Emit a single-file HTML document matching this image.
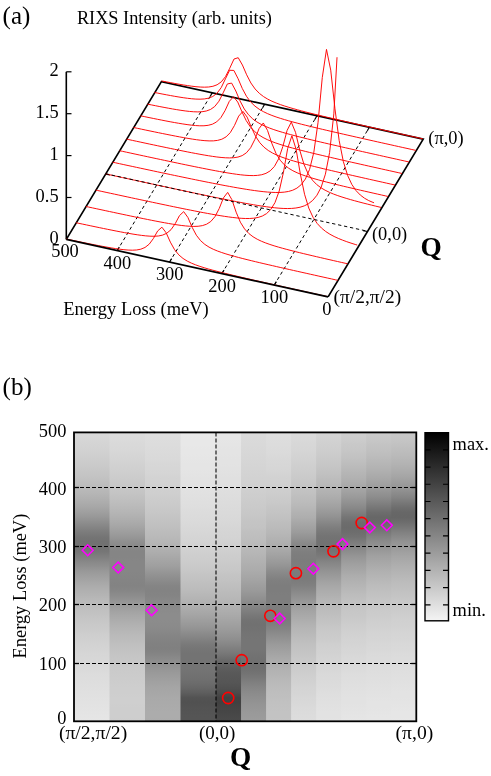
<!DOCTYPE html>
<html><head><meta charset="utf-8"><title>RIXS</title>
<style>html,body{margin:0;padding:0;background:#fff}body{width:491px;height:776px;position:relative;overflow:hidden;font-family:"Liberation Serif",serif}</style></head>
<body>
<svg width="491" height="776" viewBox="0 0 491 776" style="position:absolute;left:0;top:0;will-change:transform">
<rect width="100%" height="100%" fill="#fff"/>
<g fill="none" stroke-linecap="butt">
<path d="M117.19,250.57 L212.29,92.82" stroke="#000" stroke-width="1.0" stroke-dasharray="3.3,2.8"/>
<path d="M169.55,262.06 L264.65,104.31" stroke="#000" stroke-width="1.0" stroke-dasharray="3.3,2.8"/>
<path d="M221.91,273.55 L317.01,115.80" stroke="#000" stroke-width="1.0" stroke-dasharray="3.3,2.8"/>
<path d="M274.27,285.04 L369.37,127.29" stroke="#000" stroke-width="1.0" stroke-dasharray="3.3,2.8"/>
<path d="M66.30,239.40 L161.40,81.65 L423.20,139.10 L328.10,296.85" stroke="#000" stroke-width="1.7" stroke-linejoin="miter"/>
<path d="M66.30,239.40 L66.30,71.80" stroke="#000" stroke-width="1.6"/>
<path d="M66.30,197.50 h5.2" stroke="#000" stroke-width="1.2"/>
<path d="M66.30,155.60 h5.2" stroke="#000" stroke-width="1.2"/>
<path d="M66.30,113.70 h5.2" stroke="#000" stroke-width="1.2"/>
<path d="M66.30,71.80 h5.2" stroke="#000" stroke-width="1.2"/>
<path d="M117.19,250.57 l2.07,-3.43" stroke="#000" stroke-width="1.2"/>
<path d="M212.29,92.82 l-2.07,3.43" stroke="#000" stroke-width="1.2"/>
<path d="M169.55,262.06 l2.07,-3.43" stroke="#000" stroke-width="1.2"/>
<path d="M264.65,104.31 l-2.07,3.43" stroke="#000" stroke-width="1.2"/>
<path d="M221.91,273.55 l2.07,-3.43" stroke="#000" stroke-width="1.2"/>
<path d="M317.01,115.80 l-2.07,3.43" stroke="#000" stroke-width="1.2"/>
<path d="M274.27,285.04 l2.07,-3.43" stroke="#000" stroke-width="1.2"/>
<path d="M369.37,127.29 l-2.07,3.43" stroke="#000" stroke-width="1.2"/>
<path d="M105.69,174.06 l4.40,0.96" stroke="#000" stroke-width="1.2"/>
<path d="M367.49,231.51 l-4.40,-0.96" stroke="#000" stroke-width="1.2"/>
<path d="M161.40,80.87 L162.20,81.03 L166.42,81.86 L170.65,82.67 L174.87,83.46 L179.09,84.22 L183.32,84.93 L187.54,85.60 L191.76,86.19 L195.98,86.69 L200.21,87.04 L204.43,87.18 L208.65,87.00 L212.88,86.30 L217.10,84.77 L221.32,81.83 L225.54,76.56 L229.77,68.18 L233.99,59.04 L238.21,57.71 L242.43,65.04 L246.66,74.79 L250.88,82.97 L255.10,88.98 L259.33,93.33 L263.55,96.60 L267.77,99.15 L271.99,101.25 L276.22,103.03 L280.44,104.61 L284.66,106.04 L288.89,107.35 L293.11,108.59 L297.33,109.77 L301.55,110.91 L305.78,112.01 L310.00,113.08 L314.22,114.13 L318.45,115.16 L322.67,116.17 L326.89,117.18 L331.11,118.17 L335.34,119.16 L339.56,120.14 L343.78,121.11 L348.01,122.08 L352.23,123.04 L356.45,124.00 L360.67,124.96 L364.90,125.91 L369.12,126.86 L373.34,127.81 L377.57,128.76 L381.79,129.70 L386.01,130.65 L390.23,131.59 L394.46,132.53 L398.68,133.47 L402.90,134.41 L407.13,135.35 L411.35,136.29 L415.57,137.22 L419.79,138.16 L422.78,138.82 " stroke="#ff0000" stroke-width="0.95" stroke-linejoin="round"/>
<path d="M154.44,92.46 L157.86,93.14 L162.08,93.97 L166.30,94.78 L170.52,95.56 L174.75,96.32 L178.97,97.03 L183.19,97.69 L187.42,98.27 L191.64,98.75 L195.86,99.08 L200.08,99.18 L204.31,98.95 L208.53,98.17 L212.75,96.49 L216.98,93.29 L221.20,87.64 L225.42,78.90 L229.64,70.27 L233.87,70.45 L238.09,78.70 L242.31,88.50 L246.53,96.37 L250.76,102.05 L254.98,106.15 L259.20,109.24 L263.43,111.67 L267.65,113.68 L271.87,115.41 L276.09,116.94 L280.32,118.33 L284.54,119.62 L288.76,120.84 L292.99,122.00 L297.21,123.12 L301.43,124.21 L305.65,125.27 L309.88,126.31 L314.10,127.34 L318.32,128.35 L322.55,129.35 L326.77,130.34 L330.99,131.32 L335.21,132.30 L339.44,133.27 L343.66,134.23 L347.88,135.19 L352.11,136.15 L356.33,137.11 L360.55,138.06 L364.77,139.01 L369.00,139.96 L373.22,140.90 L377.44,141.85 L381.67,142.79 L385.89,143.73 L390.11,144.67 L394.33,145.61 L398.56,146.55 L402.78,147.49 L407.00,148.42 L411.23,149.36 L415.45,150.29 L415.82,150.38 " stroke="#ff0000" stroke-width="0.95" stroke-linejoin="round"/>
<path d="M147.47,104.11 L151.38,104.90 L155.60,105.74 L159.83,106.58 L164.05,107.39 L168.27,108.18 L172.50,108.94 L176.72,109.65 L180.94,110.32 L185.16,110.92 L189.39,111.41 L193.61,111.76 L197.83,111.90 L202.06,111.72 L206.28,111.02 L210.50,109.48 L214.72,106.51 L218.95,101.21 L223.17,92.84 L227.39,83.94 L231.62,83.09 L235.84,91.00 L240.06,100.95 L244.28,108.98 L248.51,114.74 L252.73,118.88 L256.95,121.97 L261.17,124.39 L265.40,126.39 L269.62,128.10 L273.84,129.62 L278.07,131.00 L282.29,132.28 L286.51,133.49 L290.73,134.64 L294.96,135.76 L299.18,136.84 L303.40,137.90 L307.63,138.94 L311.85,139.96 L316.07,140.97 L320.29,141.96 L324.52,142.95 L328.74,143.93 L332.96,144.91 L337.19,145.87 L341.41,146.84 L345.63,147.80 L349.85,148.76 L354.08,149.71 L358.30,150.66 L362.52,151.61 L366.75,152.56 L370.97,153.50 L375.19,154.44 L379.41,155.39 L383.64,156.33 L387.86,157.27 L392.08,158.21 L396.31,159.14 L400.53,160.08 L404.75,161.02 L408.85,161.93 " stroke="#ff0000" stroke-width="0.95" stroke-linejoin="round"/>
<path d="M140.51,115.80 L144.82,116.70 L149.04,117.57 L153.27,118.43 L157.49,119.29 L161.71,120.12 L165.93,120.95 L170.16,121.75 L174.38,122.52 L178.60,123.26 L182.83,123.95 L187.05,124.58 L191.27,125.13 L195.49,125.55 L199.72,125.79 L203.94,125.77 L208.16,125.32 L212.39,124.19 L216.61,121.91 L220.83,117.70 L225.05,110.64 L229.28,101.40 L233.50,96.74 L237.72,102.04 L241.95,111.77 L246.17,120.52 L250.39,126.95 L254.61,131.53 L258.84,134.90 L263.06,137.51 L267.28,139.62 L271.51,141.40 L275.73,142.97 L279.95,144.39 L284.17,145.69 L288.40,146.92 L292.62,148.09 L296.84,149.22 L301.07,150.31 L305.29,151.37 L309.51,152.41 L313.73,153.44 L317.96,154.45 L322.18,155.45 L326.40,156.44 L330.63,157.42 L334.85,158.39 L339.07,159.36 L343.29,160.33 L347.52,161.29 L351.74,162.25 L355.96,163.20 L360.19,164.15 L364.41,165.10 L368.63,166.05 L372.85,166.99 L377.08,167.94 L381.30,168.88 L385.52,169.82 L389.75,170.76 L393.97,171.70 L398.19,172.64 L401.89,173.46 " stroke="#ff0000" stroke-width="0.95" stroke-linejoin="round"/>
<path d="M133.55,127.49 L137.35,128.30 L141.58,129.19 L145.80,130.08 L150.02,130.96 L154.25,131.84 L158.47,132.71 L162.69,133.57 L166.91,134.42 L171.14,135.26 L175.36,136.08 L179.58,136.88 L183.81,137.65 L188.03,138.39 L192.25,139.08 L196.47,139.71 L200.70,140.25 L204.92,140.66 L209.14,140.90 L213.37,140.86 L217.59,140.39 L221.81,139.23 L226.03,136.91 L230.26,132.65 L234.48,125.48 L238.70,116.12 L242.93,111.38 L247.15,117.10 L251.37,127.39 L255.59,136.32 L259.82,142.72 L264.04,147.21 L268.26,150.48 L272.49,153.01 L276.71,155.06 L280.93,156.79 L285.15,158.32 L289.38,159.71 L293.60,160.99 L297.82,162.20 L302.04,163.35 L306.27,164.46 L310.49,165.54 L314.71,166.59 L318.94,167.63 L323.16,168.65 L327.38,169.65 L331.60,170.65 L335.83,171.63 L340.05,172.61 L344.27,173.58 L348.50,174.55 L352.72,175.51 L356.94,176.47 L361.16,177.42 L365.39,178.38 L369.61,179.33 L373.83,180.27 L378.06,181.22 L382.28,182.16 L386.50,183.11 L390.72,184.05 L394.93,184.98 " stroke="#ff0000" stroke-width="0.95" stroke-linejoin="round"/>
<path d="M126.58,139.14 L128.16,139.48 L132.39,140.38 L136.61,141.29 L140.83,142.20 L145.05,143.10 L149.28,144.00 L153.50,144.89 L157.72,145.79 L161.95,146.68 L166.17,147.56 L170.39,148.44 L174.61,149.31 L178.84,150.17 L183.06,151.02 L187.28,151.86 L191.51,152.69 L195.73,153.49 L199.95,154.27 L204.17,155.02 L208.40,155.73 L212.62,156.39 L216.84,156.97 L221.07,157.45 L225.29,157.79 L229.51,157.92 L233.73,157.74 L237.96,157.07 L242.18,155.61 L246.40,152.81 L250.62,147.78 L254.85,139.42 L259.07,128.55 L263.29,122.98 L267.52,130.40 L271.74,143.13 L275.96,153.34 L280.18,160.22 L284.41,164.87 L288.63,168.19 L292.85,170.72 L297.08,172.75 L301.30,174.47 L305.52,175.98 L309.74,177.35 L313.97,178.63 L318.19,179.82 L322.41,180.97 L326.64,182.07 L330.86,183.14 L335.08,184.19 L339.30,185.22 L343.53,186.24 L347.75,187.24 L351.97,188.23 L356.20,189.21 L360.42,190.19 L364.64,191.16 L368.86,192.12 L373.09,193.08 L377.31,194.04 L381.53,194.99 L385.76,195.94 L387.96,196.44 " stroke="#ff0000" stroke-width="0.95" stroke-linejoin="round"/>
<path d="M119.62,150.71 L122.39,151.31 L126.62,152.23 L130.84,153.14 L135.06,154.05 L139.28,154.96 L143.51,155.87 L147.73,156.77 L151.95,157.68 L156.18,158.58 L160.40,159.48 L164.62,160.38 L168.84,161.28 L173.07,162.17 L177.29,163.06 L181.51,163.94 L185.74,164.82 L189.96,165.69 L194.18,166.56 L198.40,167.41 L202.63,168.26 L206.85,169.09 L211.07,169.91 L215.30,170.71 L219.52,171.49 L223.74,172.25 L227.96,172.96 L232.19,173.64 L236.41,174.25 L240.63,174.79 L244.86,175.22 L249.08,175.51 L253.30,175.60 L257.52,175.39 L261.75,174.73 L265.97,173.37 L270.19,170.86 L274.41,166.45 L278.64,158.84 L282.86,146.47 L287.08,130.48 L291.31,122.10 L295.53,132.33 L299.75,150.17 L303.97,164.40 L308.20,173.87 L312.42,180.13 L316.64,184.49 L320.87,187.70 L325.09,190.21 L329.31,192.28 L333.53,194.05 L337.76,195.61 L341.98,197.03 L346.20,198.34 L350.43,199.58 L354.65,200.76 L358.87,201.90 L363.09,203.00 L367.32,204.07 L371.54,205.13 L375.76,206.16 L379.99,207.18 L381.00,207.42 " stroke="#ff0000" stroke-width="0.95" stroke-linejoin="round"/>
<path d="M112.65,162.20 L115.35,162.78 L119.57,163.70 L123.80,164.61 L128.02,165.52 L132.24,166.42 L136.46,167.33 L140.69,168.24 L144.91,169.14 L149.13,170.04 L153.36,170.94 L157.58,171.84 L161.80,172.74 L166.02,173.63 L170.25,174.52 L174.47,175.41 L178.69,176.29 L182.92,177.17 L187.14,178.04 L191.36,178.91 L195.58,179.78 L199.81,180.64 L204.03,181.49 L208.25,182.33 L212.48,183.17 L216.70,183.99 L220.92,184.81 L225.14,185.61 L229.37,186.39 L233.59,187.16 L237.81,187.90 L242.04,188.62 L246.26,189.31 L250.48,189.97 L254.70,190.58 L258.93,191.14 L263.15,191.63 L267.37,192.04 L271.60,192.33 L275.82,192.49 L280.04,192.45 L284.26,192.14 L288.49,191.46 L292.71,190.22 L296.93,188.14 L301.16,184.71 L305.38,179.02 L309.60,169.34 L313.82,152.31 L318.05,122.33 L322.27,77.55 L326.49,49.40 L330.72,70.15 L334.94,108.74 L339.16,140.53 L343.38,161.73 L347.61,175.42 L351.83,184.45 L356.05,190.64 L360.28,195.01 L364.50,198.21 L368.72,200.59 L372.94,202.39 L374.04,202.77 " stroke="#ff0000" stroke-width="0.95" stroke-linejoin="round"/>
<path d="M105.69,173.92 L110.03,174.87 L114.26,175.79 L118.48,176.71 L122.70,177.63 L126.93,178.54 L131.15,179.46 L135.37,180.38 L139.59,181.29 L143.82,182.21 L148.04,183.12 L152.26,184.03 L156.48,184.95 L160.71,185.86 L164.93,186.76 L169.15,187.67 L173.38,188.58 L177.60,189.48 L181.82,190.38 L186.04,191.28 L190.27,192.18 L194.49,193.07 L198.71,193.96 L202.94,194.84 L207.16,195.72 L211.38,196.60 L215.60,197.47 L219.83,198.33 L224.05,199.18 L228.27,200.02 L232.50,200.86 L236.72,201.68 L240.94,202.48 L245.16,203.27 L249.39,204.03 L253.61,204.77 L257.83,205.47 L262.06,206.14 L266.28,206.76 L270.50,207.31 L274.72,207.79 L278.95,208.18 L283.17,208.44 L287.39,208.54 L291.62,208.43 L295.84,208.02 L300.06,207.23 L304.28,205.87 L308.51,203.72 L312.73,200.38 L316.95,195.22 L321.18,187.15 L325.40,174.19 L329.62,152.49 L333.84,113.87 L337.03,57.23 " stroke="#ff0000" stroke-width="0.95" stroke-linejoin="round"/>
<path d="M95.84,190.12 L97.63,190.50 L101.85,191.42 L106.07,192.33 L110.30,193.24 L114.52,194.15 L118.74,195.06 L122.97,195.97 L127.19,196.88 L131.41,197.79 L135.63,198.69 L139.86,199.59 L144.08,200.49 L148.30,201.39 L152.53,202.29 L156.75,203.18 L160.97,204.07 L165.19,204.95 L169.42,205.83 L173.64,206.71 L177.86,207.58 L182.08,208.44 L186.31,209.30 L190.53,210.14 L194.75,210.98 L198.98,211.80 L203.20,212.61 L207.42,213.40 L211.64,214.17 L215.87,214.92 L220.09,215.63 L224.31,216.30 L228.54,216.92 L232.76,217.47 L236.98,217.94 L241.20,218.30 L245.43,218.50 L249.65,218.49 L253.87,218.18 L258.10,217.44 L262.32,216.04 L266.54,213.61 L270.76,209.51 L274.99,202.60 L279.21,191.00 L283.43,172.41 L287.66,148.51 L291.88,135.79 L296.10,149.26 L300.32,173.87 L304.55,194.25 L308.77,208.06 L312.99,217.22 L317.22,223.50 L321.44,228.03 L325.66,231.48 L329.88,234.21 L334.11,236.48 L338.33,238.43 L342.55,240.14 L346.78,241.69 L351.00,243.12 L355.22,244.46 L357.22,245.06 " stroke="#ff0000" stroke-width="0.95" stroke-linejoin="round"/>
<path d="M86.00,206.48 L88.33,206.99 L92.55,207.90 L96.77,208.81 L101.00,209.71 L105.22,210.62 L109.44,211.52 L113.66,212.42 L117.89,213.32 L122.11,214.21 L126.33,215.10 L130.56,215.99 L134.78,216.87 L139.00,217.74 L143.22,218.60 L147.45,219.45 L151.67,220.30 L155.89,221.12 L160.12,221.93 L164.34,222.71 L168.56,223.47 L172.78,224.18 L177.01,224.84 L181.23,225.43 L185.45,225.92 L189.68,226.28 L193.90,226.43 L198.12,226.27 L202.34,225.64 L206.57,224.22 L210.79,221.50 L215.01,216.60 L219.24,208.45 L223.46,197.83 L227.68,192.40 L231.90,199.68 L236.13,212.16 L240.35,222.16 L244.57,228.92 L248.80,233.49 L253.02,236.76 L257.24,239.24 L261.46,241.25 L265.69,242.96 L269.91,244.46 L274.13,245.82 L278.36,247.08 L282.58,248.27 L286.80,249.41 L291.02,250.51 L295.25,251.58 L299.47,252.63 L303.69,253.66 L307.92,254.67 L312.14,255.67 L316.36,256.66 L320.58,257.64 L324.81,258.61 L329.03,259.58 L333.25,260.55 L337.48,261.51 L341.70,262.46 L345.92,263.42 L347.38,263.74 " stroke="#ff0000" stroke-width="0.95" stroke-linejoin="round"/>
<path d="M76.15,222.74 L78.12,223.16 L82.35,224.06 L86.57,224.95 L90.79,225.84 L95.02,226.72 L99.24,227.60 L103.46,228.47 L107.68,229.33 L111.91,230.18 L116.13,231.02 L120.35,231.83 L124.58,232.63 L128.80,233.39 L133.02,234.11 L137.24,234.78 L141.47,235.37 L145.69,235.85 L149.91,236.18 L154.14,236.27 L158.36,235.99 L162.58,235.12 L166.80,233.23 L171.03,229.67 L175.25,223.59 L179.47,215.61 L183.70,211.64 L187.92,217.46 L192.14,227.30 L196.36,235.23 L200.59,240.65 L204.81,244.38 L209.03,247.11 L213.25,249.25 L217.48,251.01 L221.70,252.53 L225.92,253.90 L230.15,255.16 L234.37,256.35 L238.59,257.48 L242.81,258.57 L247.04,259.63 L251.26,260.67 L255.48,261.69 L259.71,262.69 L263.93,263.69 L268.15,264.67 L272.37,265.64 L276.60,266.61 L280.82,267.58 L285.04,268.54 L289.27,269.49 L293.49,270.44 L297.71,271.39 L301.93,272.34 L306.16,273.28 L310.38,274.23 L314.60,275.17 L318.83,276.11 L323.05,277.05 L327.27,277.99 L331.49,278.92 L335.72,279.86 L337.53,280.26 " stroke="#ff0000" stroke-width="0.95" stroke-linejoin="round"/>
<path d="M66.30,239.01 L69.01,239.58 L73.23,240.46 L77.45,241.34 L81.68,242.22 L85.90,243.08 L90.12,243.94 L94.34,244.78 L98.57,245.60 L102.79,246.40 L107.01,247.17 L111.24,247.90 L115.46,248.58 L119.68,249.19 L123.90,249.70 L128.13,250.06 L132.35,250.19 L136.57,249.98 L140.80,249.20 L145.02,247.46 L149.24,244.13 L153.46,238.42 L157.69,230.91 L161.91,227.20 L166.13,232.76 L170.36,242.13 L174.58,249.69 L178.80,254.87 L183.02,258.46 L187.25,261.10 L191.47,263.17 L195.69,264.88 L199.91,266.38 L204.14,267.72 L208.36,268.97 L212.58,270.14 L216.81,271.26 L221.03,272.34 L225.25,273.40 L229.47,274.43 L233.70,275.44 L237.92,276.44 L242.14,277.43 L246.37,278.41 L250.59,279.38 L254.81,280.35 L259.03,281.31 L263.26,282.27 L267.48,283.22 L271.70,284.17 L275.93,285.12 L280.15,286.07 L284.37,287.01 L288.59,287.96 L292.82,288.90 L297.04,289.84 L301.26,290.77 L305.49,291.71 L309.71,292.65 L313.93,293.58 L318.15,294.52 L322.38,295.45 L326.60,296.39 L327.68,296.63 " stroke="#ff0000" stroke-width="0.95" stroke-linejoin="round"/>
<path d="M105.69,173.76 L367.49,231.21" stroke="#000" stroke-width="1.0" stroke-dasharray="3.3,2.8"/>
<path d="M66.30,239.40 L328.10,296.85" stroke="#000" stroke-width="1.7"/>
</g>
<g font-family="Liberation Serif, serif" fill="#000">
<text x="2.6" y="24.1" font-size="25">(a)</text>
<text x="76.9" y="24.4" font-size="18.3">RIXS Intensity (arb. units)</text>
<text x="58.6" y="244.0" font-size="18.4" text-anchor="end">0</text>
<text x="58.6" y="201.9" font-size="18.4" text-anchor="end">0.5</text>
<text x="58.6" y="160.0" font-size="18.4" text-anchor="end">1</text>
<text x="58.6" y="118.1" font-size="18.4" text-anchor="end">1.5</text>
<text x="58.6" y="76.2" font-size="18.4" text-anchor="end">2</text>
<text x="65.0" y="257.0" font-size="18.4" text-anchor="middle">500</text>
<text x="117.4" y="268.5" font-size="18.4" text-anchor="middle">400</text>
<text x="169.7" y="280.0" font-size="18.4" text-anchor="middle">300</text>
<text x="222.1" y="291.5" font-size="18.4" text-anchor="middle">200</text>
<text x="274.4" y="303.0" font-size="18.4" text-anchor="middle">100</text>
<text x="326.8" y="314.5" font-size="18.4" text-anchor="middle">0</text>
<text x="63.2" y="314.7" font-size="18.5">Energy Loss (meV)</text>
<text x="428.3" y="143.7" font-size="18.4">(π,0)</text>
<text x="372" y="240.2" font-size="18.4">(0,0)</text>
<text x="333.6" y="303" font-size="18.4" textLength="67.6" lengthAdjust="spacingAndGlyphs">(π/2,π/2)</text>
<text x="420.6" y="255.6" font-size="27.3" font-weight="bold">Q</text>
</g>
<defs>
<linearGradient id="g0" x1="0" y1="0" x2="0" y2="1"><stop offset="0.0000" stop-color="rgb(217,217,217)"/><stop offset="0.0072" stop-color="rgb(216,216,216)"/><stop offset="0.0240" stop-color="rgb(214,214,214)"/><stop offset="0.0409" stop-color="rgb(212,212,212)"/><stop offset="0.0578" stop-color="rgb(210,210,210)"/><stop offset="0.0747" stop-color="rgb(208,208,208)"/><stop offset="0.0915" stop-color="rgb(205,205,205)"/><stop offset="0.1084" stop-color="rgb(203,203,203)"/><stop offset="0.1253" stop-color="rgb(200,200,200)"/><stop offset="0.1421" stop-color="rgb(197,197,197)"/><stop offset="0.1590" stop-color="rgb(194,194,194)"/><stop offset="0.1759" stop-color="rgb(190,190,190)"/><stop offset="0.1927" stop-color="rgb(186,186,186)"/><stop offset="0.2096" stop-color="rgb(182,182,182)"/><stop offset="0.2265" stop-color="rgb(177,177,177)"/><stop offset="0.2433" stop-color="rgb(172,172,172)"/><stop offset="0.2602" stop-color="rgb(166,166,166)"/><stop offset="0.2771" stop-color="rgb(159,159,159)"/><stop offset="0.2939" stop-color="rgb(151,151,151)"/><stop offset="0.3108" stop-color="rgb(142,142,142)"/><stop offset="0.3277" stop-color="rgb(133,133,133)"/><stop offset="0.3445" stop-color="rgb(124,124,124)"/><stop offset="0.3614" stop-color="rgb(117,117,117)"/><stop offset="0.3783" stop-color="rgb(113,113,113)"/><stop offset="0.3952" stop-color="rgb(114,114,114)"/><stop offset="0.4120" stop-color="rgb(118,118,118)"/><stop offset="0.4289" stop-color="rgb(126,126,126)"/><stop offset="0.4458" stop-color="rgb(135,135,135)"/><stop offset="0.4626" stop-color="rgb(143,143,143)"/><stop offset="0.4795" stop-color="rgb(152,152,152)"/><stop offset="0.4964" stop-color="rgb(159,159,159)"/><stop offset="0.5132" stop-color="rgb(165,165,165)"/><stop offset="0.5301" stop-color="rgb(171,171,171)"/><stop offset="0.5470" stop-color="rgb(176,176,176)"/><stop offset="0.5638" stop-color="rgb(180,180,180)"/><stop offset="0.5807" stop-color="rgb(185,185,185)"/><stop offset="0.5976" stop-color="rgb(188,188,188)"/><stop offset="0.6144" stop-color="rgb(192,192,192)"/><stop offset="0.6313" stop-color="rgb(195,195,195)"/><stop offset="0.6482" stop-color="rgb(198,198,198)"/><stop offset="0.6651" stop-color="rgb(201,201,201)"/><stop offset="0.6819" stop-color="rgb(203,203,203)"/><stop offset="0.6988" stop-color="rgb(206,206,206)"/><stop offset="0.7157" stop-color="rgb(208,208,208)"/><stop offset="0.7325" stop-color="rgb(210,210,210)"/><stop offset="0.7494" stop-color="rgb(212,212,212)"/><stop offset="0.7663" stop-color="rgb(214,214,214)"/><stop offset="0.7831" stop-color="rgb(215,215,215)"/><stop offset="0.8000" stop-color="rgb(217,217,217)"/><stop offset="0.8169" stop-color="rgb(218,218,218)"/><stop offset="0.8337" stop-color="rgb(220,220,220)"/><stop offset="0.8506" stop-color="rgb(221,221,221)"/><stop offset="0.8675" stop-color="rgb(222,222,222)"/><stop offset="0.8843" stop-color="rgb(223,223,223)"/><stop offset="0.9012" stop-color="rgb(224,224,224)"/><stop offset="0.9181" stop-color="rgb(225,225,225)"/><stop offset="0.9349" stop-color="rgb(226,226,226)"/><stop offset="0.9518" stop-color="rgb(227,227,227)"/><stop offset="0.9687" stop-color="rgb(228,228,228)"/><stop offset="0.9856" stop-color="rgb(229,229,229)"/><stop offset="1.0000" stop-color="rgb(230,230,230)"/></linearGradient>
<linearGradient id="g1" x1="0" y1="0" x2="0" y2="1"><stop offset="0.0000" stop-color="rgb(221,221,221)"/><stop offset="0.0072" stop-color="rgb(220,220,220)"/><stop offset="0.0240" stop-color="rgb(219,219,219)"/><stop offset="0.0409" stop-color="rgb(217,217,217)"/><stop offset="0.0578" stop-color="rgb(216,216,216)"/><stop offset="0.0747" stop-color="rgb(214,214,214)"/><stop offset="0.0915" stop-color="rgb(212,212,212)"/><stop offset="0.1084" stop-color="rgb(210,210,210)"/><stop offset="0.1253" stop-color="rgb(208,208,208)"/><stop offset="0.1421" stop-color="rgb(206,206,206)"/><stop offset="0.1590" stop-color="rgb(204,204,204)"/><stop offset="0.1759" stop-color="rgb(201,201,201)"/><stop offset="0.1927" stop-color="rgb(199,199,199)"/><stop offset="0.2096" stop-color="rgb(196,196,196)"/><stop offset="0.2265" stop-color="rgb(193,193,193)"/><stop offset="0.2433" stop-color="rgb(189,189,189)"/><stop offset="0.2602" stop-color="rgb(185,185,185)"/><stop offset="0.2771" stop-color="rgb(181,181,181)"/><stop offset="0.2939" stop-color="rgb(176,176,176)"/><stop offset="0.3108" stop-color="rgb(171,171,171)"/><stop offset="0.3277" stop-color="rgb(165,165,165)"/><stop offset="0.3445" stop-color="rgb(158,158,158)"/><stop offset="0.3614" stop-color="rgb(151,151,151)"/><stop offset="0.3783" stop-color="rgb(143,143,143)"/><stop offset="0.3952" stop-color="rgb(137,137,137)"/><stop offset="0.4120" stop-color="rgb(133,133,133)"/><stop offset="0.4289" stop-color="rgb(133,133,133)"/><stop offset="0.4458" stop-color="rgb(134,134,134)"/><stop offset="0.4626" stop-color="rgb(134,134,134)"/><stop offset="0.4795" stop-color="rgb(134,134,134)"/><stop offset="0.4964" stop-color="rgb(133,133,133)"/><stop offset="0.5132" stop-color="rgb(132,132,132)"/><stop offset="0.5301" stop-color="rgb(131,131,131)"/><stop offset="0.5470" stop-color="rgb(134,134,134)"/><stop offset="0.5638" stop-color="rgb(140,140,140)"/><stop offset="0.5807" stop-color="rgb(147,147,147)"/><stop offset="0.5976" stop-color="rgb(154,154,154)"/><stop offset="0.6144" stop-color="rgb(161,161,161)"/><stop offset="0.6313" stop-color="rgb(167,167,167)"/><stop offset="0.6482" stop-color="rgb(172,172,172)"/><stop offset="0.6651" stop-color="rgb(177,177,177)"/><stop offset="0.6819" stop-color="rgb(181,181,181)"/><stop offset="0.6988" stop-color="rgb(185,185,185)"/><stop offset="0.7157" stop-color="rgb(188,188,188)"/><stop offset="0.7325" stop-color="rgb(191,191,191)"/><stop offset="0.7494" stop-color="rgb(194,194,194)"/><stop offset="0.7663" stop-color="rgb(196,196,196)"/><stop offset="0.7831" stop-color="rgb(198,198,198)"/><stop offset="0.8000" stop-color="rgb(200,200,200)"/><stop offset="0.8169" stop-color="rgb(202,202,202)"/><stop offset="0.8337" stop-color="rgb(203,203,203)"/><stop offset="0.8506" stop-color="rgb(204,204,204)"/><stop offset="0.8675" stop-color="rgb(205,205,205)"/><stop offset="0.8843" stop-color="rgb(206,206,206)"/><stop offset="0.9012" stop-color="rgb(206,206,206)"/><stop offset="0.9181" stop-color="rgb(207,207,207)"/><stop offset="0.9349" stop-color="rgb(207,207,207)"/><stop offset="0.9518" stop-color="rgb(206,206,206)"/><stop offset="0.9687" stop-color="rgb(206,206,206)"/><stop offset="0.9856" stop-color="rgb(206,206,206)"/><stop offset="1.0000" stop-color="rgb(205,205,205)"/></linearGradient>
<linearGradient id="g2" x1="0" y1="0" x2="0" y2="1"><stop offset="0.0000" stop-color="rgb(223,223,223)"/><stop offset="0.0072" stop-color="rgb(222,222,222)"/><stop offset="0.0240" stop-color="rgb(221,221,221)"/><stop offset="0.0409" stop-color="rgb(220,220,220)"/><stop offset="0.0578" stop-color="rgb(219,219,219)"/><stop offset="0.0747" stop-color="rgb(218,218,218)"/><stop offset="0.0915" stop-color="rgb(217,217,217)"/><stop offset="0.1084" stop-color="rgb(215,215,215)"/><stop offset="0.1253" stop-color="rgb(214,214,214)"/><stop offset="0.1421" stop-color="rgb(213,213,213)"/><stop offset="0.1590" stop-color="rgb(211,211,211)"/><stop offset="0.1759" stop-color="rgb(210,210,210)"/><stop offset="0.1927" stop-color="rgb(208,208,208)"/><stop offset="0.2096" stop-color="rgb(207,207,207)"/><stop offset="0.2265" stop-color="rgb(205,205,205)"/><stop offset="0.2433" stop-color="rgb(203,203,203)"/><stop offset="0.2602" stop-color="rgb(201,201,201)"/><stop offset="0.2771" stop-color="rgb(199,199,199)"/><stop offset="0.2939" stop-color="rgb(196,196,196)"/><stop offset="0.3108" stop-color="rgb(194,194,194)"/><stop offset="0.3277" stop-color="rgb(191,191,191)"/><stop offset="0.3445" stop-color="rgb(188,188,188)"/><stop offset="0.3614" stop-color="rgb(185,185,185)"/><stop offset="0.3783" stop-color="rgb(182,182,182)"/><stop offset="0.3952" stop-color="rgb(178,178,178)"/><stop offset="0.4120" stop-color="rgb(174,174,174)"/><stop offset="0.4289" stop-color="rgb(169,169,169)"/><stop offset="0.4458" stop-color="rgb(164,164,164)"/><stop offset="0.4626" stop-color="rgb(159,159,159)"/><stop offset="0.4795" stop-color="rgb(152,152,152)"/><stop offset="0.4964" stop-color="rgb(145,145,145)"/><stop offset="0.5132" stop-color="rgb(139,139,139)"/><stop offset="0.5301" stop-color="rgb(133,133,133)"/><stop offset="0.5470" stop-color="rgb(131,131,131)"/><stop offset="0.5638" stop-color="rgb(132,132,132)"/><stop offset="0.5807" stop-color="rgb(135,135,135)"/><stop offset="0.5976" stop-color="rgb(137,137,137)"/><stop offset="0.6144" stop-color="rgb(139,139,139)"/><stop offset="0.6313" stop-color="rgb(140,140,140)"/><stop offset="0.6482" stop-color="rgb(140,140,140)"/><stop offset="0.6651" stop-color="rgb(139,139,139)"/><stop offset="0.6819" stop-color="rgb(137,137,137)"/><stop offset="0.6988" stop-color="rgb(134,134,134)"/><stop offset="0.7157" stop-color="rgb(131,131,131)"/><stop offset="0.7325" stop-color="rgb(129,129,129)"/><stop offset="0.7494" stop-color="rgb(128,128,128)"/><stop offset="0.7663" stop-color="rgb(132,132,132)"/><stop offset="0.7831" stop-color="rgb(138,138,138)"/><stop offset="0.8000" stop-color="rgb(144,144,144)"/><stop offset="0.8169" stop-color="rgb(149,149,149)"/><stop offset="0.8337" stop-color="rgb(154,154,154)"/><stop offset="0.8506" stop-color="rgb(158,158,158)"/><stop offset="0.8675" stop-color="rgb(162,162,162)"/><stop offset="0.8843" stop-color="rgb(165,165,165)"/><stop offset="0.9012" stop-color="rgb(167,167,167)"/><stop offset="0.9181" stop-color="rgb(169,169,169)"/><stop offset="0.9349" stop-color="rgb(170,170,170)"/><stop offset="0.9518" stop-color="rgb(171,171,171)"/><stop offset="0.9687" stop-color="rgb(172,172,172)"/><stop offset="0.9856" stop-color="rgb(172,172,172)"/><stop offset="1.0000" stop-color="rgb(171,171,171)"/></linearGradient>
<linearGradient id="g3" x1="0" y1="0" x2="0" y2="1"><stop offset="0.0000" stop-color="rgb(233,233,233)"/><stop offset="0.0072" stop-color="rgb(233,233,233)"/><stop offset="0.0240" stop-color="rgb(232,232,232)"/><stop offset="0.0409" stop-color="rgb(232,232,232)"/><stop offset="0.0578" stop-color="rgb(231,231,231)"/><stop offset="0.0747" stop-color="rgb(231,231,231)"/><stop offset="0.0915" stop-color="rgb(230,230,230)"/><stop offset="0.1084" stop-color="rgb(229,229,229)"/><stop offset="0.1253" stop-color="rgb(229,229,229)"/><stop offset="0.1421" stop-color="rgb(228,228,228)"/><stop offset="0.1590" stop-color="rgb(227,227,227)"/><stop offset="0.1759" stop-color="rgb(226,226,226)"/><stop offset="0.1927" stop-color="rgb(226,226,226)"/><stop offset="0.2096" stop-color="rgb(225,225,225)"/><stop offset="0.2265" stop-color="rgb(224,224,224)"/><stop offset="0.2433" stop-color="rgb(223,223,223)"/><stop offset="0.2602" stop-color="rgb(222,222,222)"/><stop offset="0.2771" stop-color="rgb(220,220,220)"/><stop offset="0.2939" stop-color="rgb(219,219,219)"/><stop offset="0.3108" stop-color="rgb(218,218,218)"/><stop offset="0.3277" stop-color="rgb(216,216,216)"/><stop offset="0.3445" stop-color="rgb(215,215,215)"/><stop offset="0.3614" stop-color="rgb(213,213,213)"/><stop offset="0.3783" stop-color="rgb(212,212,212)"/><stop offset="0.3952" stop-color="rgb(210,210,210)"/><stop offset="0.4120" stop-color="rgb(208,208,208)"/><stop offset="0.4289" stop-color="rgb(206,206,206)"/><stop offset="0.4458" stop-color="rgb(204,204,204)"/><stop offset="0.4626" stop-color="rgb(202,202,202)"/><stop offset="0.4795" stop-color="rgb(199,199,199)"/><stop offset="0.4964" stop-color="rgb(196,196,196)"/><stop offset="0.5132" stop-color="rgb(193,193,193)"/><stop offset="0.5301" stop-color="rgb(190,190,190)"/><stop offset="0.5470" stop-color="rgb(187,187,187)"/><stop offset="0.5638" stop-color="rgb(183,183,183)"/><stop offset="0.5807" stop-color="rgb(179,179,179)"/><stop offset="0.5976" stop-color="rgb(175,175,175)"/><stop offset="0.6144" stop-color="rgb(170,170,170)"/><stop offset="0.6313" stop-color="rgb(165,165,165)"/><stop offset="0.6482" stop-color="rgb(159,159,159)"/><stop offset="0.6651" stop-color="rgb(153,153,153)"/><stop offset="0.6819" stop-color="rgb(146,146,146)"/><stop offset="0.6988" stop-color="rgb(138,138,138)"/><stop offset="0.7157" stop-color="rgb(130,130,130)"/><stop offset="0.7325" stop-color="rgb(122,122,122)"/><stop offset="0.7494" stop-color="rgb(117,117,117)"/><stop offset="0.7663" stop-color="rgb(115,115,115)"/><stop offset="0.7831" stop-color="rgb(115,115,115)"/><stop offset="0.8000" stop-color="rgb(116,116,116)"/><stop offset="0.8169" stop-color="rgb(116,116,116)"/><stop offset="0.8337" stop-color="rgb(114,114,114)"/><stop offset="0.8506" stop-color="rgb(112,112,112)"/><stop offset="0.8675" stop-color="rgb(108,108,108)"/><stop offset="0.8843" stop-color="rgb(102,102,102)"/><stop offset="0.9012" stop-color="rgb(94,94,94)"/><stop offset="0.9181" stop-color="rgb(83,83,83)"/><stop offset="0.9349" stop-color="rgb(81,81,81)"/><stop offset="0.9518" stop-color="rgb(83,83,83)"/><stop offset="0.9687" stop-color="rgb(84,84,84)"/><stop offset="0.9856" stop-color="rgb(85,85,85)"/><stop offset="1.0000" stop-color="rgb(85,85,85)"/></linearGradient>
<linearGradient id="g4" x1="0" y1="0" x2="0" y2="1"><stop offset="0.0000" stop-color="rgb(231,231,231)"/><stop offset="0.0072" stop-color="rgb(230,230,230)"/><stop offset="0.0240" stop-color="rgb(230,230,230)"/><stop offset="0.0409" stop-color="rgb(229,229,229)"/><stop offset="0.0578" stop-color="rgb(228,228,228)"/><stop offset="0.0747" stop-color="rgb(228,228,228)"/><stop offset="0.0915" stop-color="rgb(227,227,227)"/><stop offset="0.1084" stop-color="rgb(227,227,227)"/><stop offset="0.1253" stop-color="rgb(226,226,226)"/><stop offset="0.1421" stop-color="rgb(225,225,225)"/><stop offset="0.1590" stop-color="rgb(224,224,224)"/><stop offset="0.1759" stop-color="rgb(224,224,224)"/><stop offset="0.1927" stop-color="rgb(223,223,223)"/><stop offset="0.2096" stop-color="rgb(222,222,222)"/><stop offset="0.2265" stop-color="rgb(221,221,221)"/><stop offset="0.2433" stop-color="rgb(220,220,220)"/><stop offset="0.2602" stop-color="rgb(219,219,219)"/><stop offset="0.2771" stop-color="rgb(218,218,218)"/><stop offset="0.2939" stop-color="rgb(217,217,217)"/><stop offset="0.3108" stop-color="rgb(216,216,216)"/><stop offset="0.3277" stop-color="rgb(214,214,214)"/><stop offset="0.3445" stop-color="rgb(213,213,213)"/><stop offset="0.3614" stop-color="rgb(212,212,212)"/><stop offset="0.3783" stop-color="rgb(210,210,210)"/><stop offset="0.3952" stop-color="rgb(208,208,208)"/><stop offset="0.4120" stop-color="rgb(207,207,207)"/><stop offset="0.4289" stop-color="rgb(205,205,205)"/><stop offset="0.4458" stop-color="rgb(203,203,203)"/><stop offset="0.4626" stop-color="rgb(201,201,201)"/><stop offset="0.4795" stop-color="rgb(199,199,199)"/><stop offset="0.4964" stop-color="rgb(196,196,196)"/><stop offset="0.5132" stop-color="rgb(194,194,194)"/><stop offset="0.5301" stop-color="rgb(191,191,191)"/><stop offset="0.5470" stop-color="rgb(188,188,188)"/><stop offset="0.5638" stop-color="rgb(185,185,185)"/><stop offset="0.5807" stop-color="rgb(182,182,182)"/><stop offset="0.5976" stop-color="rgb(178,178,178)"/><stop offset="0.6144" stop-color="rgb(174,174,174)"/><stop offset="0.6313" stop-color="rgb(170,170,170)"/><stop offset="0.6482" stop-color="rgb(165,165,165)"/><stop offset="0.6651" stop-color="rgb(160,160,160)"/><stop offset="0.6819" stop-color="rgb(155,155,155)"/><stop offset="0.6988" stop-color="rgb(149,149,149)"/><stop offset="0.7157" stop-color="rgb(143,143,143)"/><stop offset="0.7325" stop-color="rgb(135,135,135)"/><stop offset="0.7494" stop-color="rgb(127,127,127)"/><stop offset="0.7663" stop-color="rgb(119,119,119)"/><stop offset="0.7831" stop-color="rgb(109,109,109)"/><stop offset="0.8000" stop-color="rgb(100,100,100)"/><stop offset="0.8169" stop-color="rgb(93,93,93)"/><stop offset="0.8337" stop-color="rgb(89,89,89)"/><stop offset="0.8506" stop-color="rgb(87,87,87)"/><stop offset="0.8675" stop-color="rgb(85,85,85)"/><stop offset="0.8843" stop-color="rgb(81,81,81)"/><stop offset="0.9012" stop-color="rgb(75,75,75)"/><stop offset="0.9181" stop-color="rgb(66,66,66)"/><stop offset="0.9349" stop-color="rgb(65,65,65)"/><stop offset="0.9518" stop-color="rgb(68,68,68)"/><stop offset="0.9687" stop-color="rgb(70,70,70)"/><stop offset="0.9856" stop-color="rgb(73,73,73)"/><stop offset="1.0000" stop-color="rgb(74,74,74)"/></linearGradient>
<linearGradient id="g5" x1="0" y1="0" x2="0" y2="1"><stop offset="0.0000" stop-color="rgb(220,220,220)"/><stop offset="0.0072" stop-color="rgb(219,219,219)"/><stop offset="0.0240" stop-color="rgb(218,218,218)"/><stop offset="0.0409" stop-color="rgb(217,217,217)"/><stop offset="0.0578" stop-color="rgb(216,216,216)"/><stop offset="0.0747" stop-color="rgb(215,215,215)"/><stop offset="0.0915" stop-color="rgb(214,214,214)"/><stop offset="0.1084" stop-color="rgb(213,213,213)"/><stop offset="0.1253" stop-color="rgb(212,212,212)"/><stop offset="0.1421" stop-color="rgb(211,211,211)"/><stop offset="0.1590" stop-color="rgb(210,210,210)"/><stop offset="0.1759" stop-color="rgb(209,209,209)"/><stop offset="0.1927" stop-color="rgb(208,208,208)"/><stop offset="0.2096" stop-color="rgb(206,206,206)"/><stop offset="0.2265" stop-color="rgb(205,205,205)"/><stop offset="0.2433" stop-color="rgb(203,203,203)"/><stop offset="0.2602" stop-color="rgb(202,202,202)"/><stop offset="0.2771" stop-color="rgb(200,200,200)"/><stop offset="0.2939" stop-color="rgb(198,198,198)"/><stop offset="0.3108" stop-color="rgb(196,196,196)"/><stop offset="0.3277" stop-color="rgb(195,195,195)"/><stop offset="0.3445" stop-color="rgb(192,192,192)"/><stop offset="0.3614" stop-color="rgb(190,190,190)"/><stop offset="0.3783" stop-color="rgb(188,188,188)"/><stop offset="0.3952" stop-color="rgb(186,186,186)"/><stop offset="0.4120" stop-color="rgb(183,183,183)"/><stop offset="0.4289" stop-color="rgb(180,180,180)"/><stop offset="0.4458" stop-color="rgb(177,177,177)"/><stop offset="0.4626" stop-color="rgb(174,174,174)"/><stop offset="0.4795" stop-color="rgb(171,171,171)"/><stop offset="0.4964" stop-color="rgb(167,167,167)"/><stop offset="0.5132" stop-color="rgb(163,163,163)"/><stop offset="0.5301" stop-color="rgb(158,158,158)"/><stop offset="0.5470" stop-color="rgb(154,154,154)"/><stop offset="0.5638" stop-color="rgb(148,148,148)"/><stop offset="0.5807" stop-color="rgb(142,142,142)"/><stop offset="0.5976" stop-color="rgb(135,135,135)"/><stop offset="0.6144" stop-color="rgb(128,128,128)"/><stop offset="0.6313" stop-color="rgb(121,121,121)"/><stop offset="0.6482" stop-color="rgb(115,115,115)"/><stop offset="0.6651" stop-color="rgb(113,113,113)"/><stop offset="0.6819" stop-color="rgb(114,114,114)"/><stop offset="0.6988" stop-color="rgb(116,116,116)"/><stop offset="0.7157" stop-color="rgb(117,117,117)"/><stop offset="0.7325" stop-color="rgb(117,117,117)"/><stop offset="0.7494" stop-color="rgb(117,117,117)"/><stop offset="0.7663" stop-color="rgb(115,115,115)"/><stop offset="0.7831" stop-color="rgb(113,113,113)"/><stop offset="0.8000" stop-color="rgb(111,111,111)"/><stop offset="0.8169" stop-color="rgb(111,111,111)"/><stop offset="0.8337" stop-color="rgb(115,115,115)"/><stop offset="0.8506" stop-color="rgb(121,121,121)"/><stop offset="0.8675" stop-color="rgb(128,128,128)"/><stop offset="0.8843" stop-color="rgb(134,134,134)"/><stop offset="0.9012" stop-color="rgb(139,139,139)"/><stop offset="0.9181" stop-color="rgb(143,143,143)"/><stop offset="0.9349" stop-color="rgb(147,147,147)"/><stop offset="0.9518" stop-color="rgb(150,150,150)"/><stop offset="0.9687" stop-color="rgb(153,153,153)"/><stop offset="0.9856" stop-color="rgb(155,155,155)"/><stop offset="1.0000" stop-color="rgb(157,157,157)"/></linearGradient>
<linearGradient id="g6" x1="0" y1="0" x2="0" y2="1"><stop offset="0.0000" stop-color="rgb(223,223,223)"/><stop offset="0.0072" stop-color="rgb(222,222,222)"/><stop offset="0.0240" stop-color="rgb(221,221,221)"/><stop offset="0.0409" stop-color="rgb(220,220,220)"/><stop offset="0.0578" stop-color="rgb(219,219,219)"/><stop offset="0.0747" stop-color="rgb(218,218,218)"/><stop offset="0.0915" stop-color="rgb(216,216,216)"/><stop offset="0.1084" stop-color="rgb(215,215,215)"/><stop offset="0.1253" stop-color="rgb(214,214,214)"/><stop offset="0.1421" stop-color="rgb(212,212,212)"/><stop offset="0.1590" stop-color="rgb(210,210,210)"/><stop offset="0.1759" stop-color="rgb(209,209,209)"/><stop offset="0.1927" stop-color="rgb(207,207,207)"/><stop offset="0.2096" stop-color="rgb(205,205,205)"/><stop offset="0.2265" stop-color="rgb(203,203,203)"/><stop offset="0.2433" stop-color="rgb(201,201,201)"/><stop offset="0.2602" stop-color="rgb(198,198,198)"/><stop offset="0.2771" stop-color="rgb(196,196,196)"/><stop offset="0.2939" stop-color="rgb(193,193,193)"/><stop offset="0.3108" stop-color="rgb(190,190,190)"/><stop offset="0.3277" stop-color="rgb(187,187,187)"/><stop offset="0.3445" stop-color="rgb(184,184,184)"/><stop offset="0.3614" stop-color="rgb(180,180,180)"/><stop offset="0.3783" stop-color="rgb(176,176,176)"/><stop offset="0.3952" stop-color="rgb(172,172,172)"/><stop offset="0.4120" stop-color="rgb(167,167,167)"/><stop offset="0.4289" stop-color="rgb(161,161,161)"/><stop offset="0.4458" stop-color="rgb(155,155,155)"/><stop offset="0.4626" stop-color="rgb(148,148,148)"/><stop offset="0.4795" stop-color="rgb(140,140,140)"/><stop offset="0.4964" stop-color="rgb(133,133,133)"/><stop offset="0.5132" stop-color="rgb(127,127,127)"/><stop offset="0.5301" stop-color="rgb(125,125,125)"/><stop offset="0.5470" stop-color="rgb(125,125,125)"/><stop offset="0.5638" stop-color="rgb(126,126,126)"/><stop offset="0.5807" stop-color="rgb(126,126,126)"/><stop offset="0.5976" stop-color="rgb(126,126,126)"/><stop offset="0.6144" stop-color="rgb(125,125,125)"/><stop offset="0.6313" stop-color="rgb(123,123,123)"/><stop offset="0.6482" stop-color="rgb(123,123,123)"/><stop offset="0.6651" stop-color="rgb(127,127,127)"/><stop offset="0.6819" stop-color="rgb(133,133,133)"/><stop offset="0.6988" stop-color="rgb(140,140,140)"/><stop offset="0.7157" stop-color="rgb(147,147,147)"/><stop offset="0.7325" stop-color="rgb(154,154,154)"/><stop offset="0.7494" stop-color="rgb(159,159,159)"/><stop offset="0.7663" stop-color="rgb(164,164,164)"/><stop offset="0.7831" stop-color="rgb(169,169,169)"/><stop offset="0.8000" stop-color="rgb(173,173,173)"/><stop offset="0.8169" stop-color="rgb(177,177,177)"/><stop offset="0.8337" stop-color="rgb(180,180,180)"/><stop offset="0.8506" stop-color="rgb(183,183,183)"/><stop offset="0.8675" stop-color="rgb(186,186,186)"/><stop offset="0.8843" stop-color="rgb(188,188,188)"/><stop offset="0.9012" stop-color="rgb(190,190,190)"/><stop offset="0.9181" stop-color="rgb(191,191,191)"/><stop offset="0.9349" stop-color="rgb(193,193,193)"/><stop offset="0.9518" stop-color="rgb(194,194,194)"/><stop offset="0.9687" stop-color="rgb(195,195,195)"/><stop offset="0.9856" stop-color="rgb(195,195,195)"/><stop offset="1.0000" stop-color="rgb(196,196,196)"/></linearGradient>
<linearGradient id="g7" x1="0" y1="0" x2="0" y2="1"><stop offset="0.0000" stop-color="rgb(220,220,220)"/><stop offset="0.0072" stop-color="rgb(218,218,218)"/><stop offset="0.0240" stop-color="rgb(217,217,217)"/><stop offset="0.0409" stop-color="rgb(215,215,215)"/><stop offset="0.0578" stop-color="rgb(214,214,214)"/><stop offset="0.0747" stop-color="rgb(212,212,212)"/><stop offset="0.0915" stop-color="rgb(210,210,210)"/><stop offset="0.1084" stop-color="rgb(208,208,208)"/><stop offset="0.1253" stop-color="rgb(206,206,206)"/><stop offset="0.1421" stop-color="rgb(204,204,204)"/><stop offset="0.1590" stop-color="rgb(202,202,202)"/><stop offset="0.1759" stop-color="rgb(199,199,199)"/><stop offset="0.1927" stop-color="rgb(196,196,196)"/><stop offset="0.2096" stop-color="rgb(193,193,193)"/><stop offset="0.2265" stop-color="rgb(190,190,190)"/><stop offset="0.2433" stop-color="rgb(187,187,187)"/><stop offset="0.2602" stop-color="rgb(183,183,183)"/><stop offset="0.2771" stop-color="rgb(178,178,178)"/><stop offset="0.2939" stop-color="rgb(174,174,174)"/><stop offset="0.3108" stop-color="rgb(168,168,168)"/><stop offset="0.3277" stop-color="rgb(162,162,162)"/><stop offset="0.3445" stop-color="rgb(156,156,156)"/><stop offset="0.3614" stop-color="rgb(148,148,148)"/><stop offset="0.3783" stop-color="rgb(140,140,140)"/><stop offset="0.3952" stop-color="rgb(133,133,133)"/><stop offset="0.4120" stop-color="rgb(127,127,127)"/><stop offset="0.4289" stop-color="rgb(125,125,125)"/><stop offset="0.4458" stop-color="rgb(124,124,124)"/><stop offset="0.4626" stop-color="rgb(125,125,125)"/><stop offset="0.4795" stop-color="rgb(124,124,124)"/><stop offset="0.4964" stop-color="rgb(123,123,123)"/><stop offset="0.5132" stop-color="rgb(124,124,124)"/><stop offset="0.5301" stop-color="rgb(128,128,128)"/><stop offset="0.5470" stop-color="rgb(135,135,135)"/><stop offset="0.5638" stop-color="rgb(143,143,143)"/><stop offset="0.5807" stop-color="rgb(150,150,150)"/><stop offset="0.5976" stop-color="rgb(157,157,157)"/><stop offset="0.6144" stop-color="rgb(163,163,163)"/><stop offset="0.6313" stop-color="rgb(168,168,168)"/><stop offset="0.6482" stop-color="rgb(173,173,173)"/><stop offset="0.6651" stop-color="rgb(178,178,178)"/><stop offset="0.6819" stop-color="rgb(182,182,182)"/><stop offset="0.6988" stop-color="rgb(185,185,185)"/><stop offset="0.7157" stop-color="rgb(189,189,189)"/><stop offset="0.7325" stop-color="rgb(192,192,192)"/><stop offset="0.7494" stop-color="rgb(195,195,195)"/><stop offset="0.7663" stop-color="rgb(197,197,197)"/><stop offset="0.7831" stop-color="rgb(200,200,200)"/><stop offset="0.8000" stop-color="rgb(202,202,202)"/><stop offset="0.8169" stop-color="rgb(204,204,204)"/><stop offset="0.8337" stop-color="rgb(206,206,206)"/><stop offset="0.8506" stop-color="rgb(208,208,208)"/><stop offset="0.8675" stop-color="rgb(210,210,210)"/><stop offset="0.8843" stop-color="rgb(212,212,212)"/><stop offset="0.9012" stop-color="rgb(213,213,213)"/><stop offset="0.9181" stop-color="rgb(215,215,215)"/><stop offset="0.9349" stop-color="rgb(216,216,216)"/><stop offset="0.9518" stop-color="rgb(218,218,218)"/><stop offset="0.9687" stop-color="rgb(219,219,219)"/><stop offset="0.9856" stop-color="rgb(220,220,220)"/><stop offset="1.0000" stop-color="rgb(221,221,221)"/></linearGradient>
<linearGradient id="g8" x1="0" y1="0" x2="0" y2="1"><stop offset="0.0000" stop-color="rgb(214,214,214)"/><stop offset="0.0072" stop-color="rgb(212,212,212)"/><stop offset="0.0240" stop-color="rgb(210,210,210)"/><stop offset="0.0409" stop-color="rgb(208,208,208)"/><stop offset="0.0578" stop-color="rgb(206,206,206)"/><stop offset="0.0747" stop-color="rgb(204,204,204)"/><stop offset="0.0915" stop-color="rgb(201,201,201)"/><stop offset="0.1084" stop-color="rgb(199,199,199)"/><stop offset="0.1253" stop-color="rgb(196,196,196)"/><stop offset="0.1421" stop-color="rgb(193,193,193)"/><stop offset="0.1590" stop-color="rgb(189,189,189)"/><stop offset="0.1759" stop-color="rgb(186,186,186)"/><stop offset="0.1927" stop-color="rgb(181,181,181)"/><stop offset="0.2096" stop-color="rgb(177,177,177)"/><stop offset="0.2265" stop-color="rgb(172,172,172)"/><stop offset="0.2433" stop-color="rgb(166,166,166)"/><stop offset="0.2602" stop-color="rgb(160,160,160)"/><stop offset="0.2771" stop-color="rgb(153,153,153)"/><stop offset="0.2939" stop-color="rgb(145,145,145)"/><stop offset="0.3108" stop-color="rgb(136,136,136)"/><stop offset="0.3277" stop-color="rgb(127,127,127)"/><stop offset="0.3445" stop-color="rgb(120,120,120)"/><stop offset="0.3614" stop-color="rgb(115,115,115)"/><stop offset="0.3783" stop-color="rgb(114,114,114)"/><stop offset="0.3952" stop-color="rgb(114,114,114)"/><stop offset="0.4120" stop-color="rgb(116,116,116)"/><stop offset="0.4289" stop-color="rgb(122,122,122)"/><stop offset="0.4458" stop-color="rgb(131,131,131)"/><stop offset="0.4626" stop-color="rgb(139,139,139)"/><stop offset="0.4795" stop-color="rgb(147,147,147)"/><stop offset="0.4964" stop-color="rgb(154,154,154)"/><stop offset="0.5132" stop-color="rgb(161,161,161)"/><stop offset="0.5301" stop-color="rgb(167,167,167)"/><stop offset="0.5470" stop-color="rgb(172,172,172)"/><stop offset="0.5638" stop-color="rgb(176,176,176)"/><stop offset="0.5807" stop-color="rgb(181,181,181)"/><stop offset="0.5976" stop-color="rgb(185,185,185)"/><stop offset="0.6144" stop-color="rgb(188,188,188)"/><stop offset="0.6313" stop-color="rgb(191,191,191)"/><stop offset="0.6482" stop-color="rgb(194,194,194)"/><stop offset="0.6651" stop-color="rgb(197,197,197)"/><stop offset="0.6819" stop-color="rgb(200,200,200)"/><stop offset="0.6988" stop-color="rgb(202,202,202)"/><stop offset="0.7157" stop-color="rgb(204,204,204)"/><stop offset="0.7325" stop-color="rgb(207,207,207)"/><stop offset="0.7494" stop-color="rgb(209,209,209)"/><stop offset="0.7663" stop-color="rgb(210,210,210)"/><stop offset="0.7831" stop-color="rgb(212,212,212)"/><stop offset="0.8000" stop-color="rgb(214,214,214)"/><stop offset="0.8169" stop-color="rgb(215,215,215)"/><stop offset="0.8337" stop-color="rgb(217,217,217)"/><stop offset="0.8506" stop-color="rgb(218,218,218)"/><stop offset="0.8675" stop-color="rgb(219,219,219)"/><stop offset="0.8843" stop-color="rgb(220,220,220)"/><stop offset="0.9012" stop-color="rgb(222,222,222)"/><stop offset="0.9181" stop-color="rgb(223,223,223)"/><stop offset="0.9349" stop-color="rgb(224,224,224)"/><stop offset="0.9518" stop-color="rgb(225,225,225)"/><stop offset="0.9687" stop-color="rgb(226,226,226)"/><stop offset="0.9856" stop-color="rgb(226,226,226)"/><stop offset="1.0000" stop-color="rgb(227,227,227)"/></linearGradient>
<linearGradient id="g9" x1="0" y1="0" x2="0" y2="1"><stop offset="0.0000" stop-color="rgb(208,208,208)"/><stop offset="0.0072" stop-color="rgb(206,206,206)"/><stop offset="0.0240" stop-color="rgb(204,204,204)"/><stop offset="0.0409" stop-color="rgb(201,201,201)"/><stop offset="0.0578" stop-color="rgb(199,199,199)"/><stop offset="0.0747" stop-color="rgb(196,196,196)"/><stop offset="0.0915" stop-color="rgb(193,193,193)"/><stop offset="0.1084" stop-color="rgb(189,189,189)"/><stop offset="0.1253" stop-color="rgb(185,185,185)"/><stop offset="0.1421" stop-color="rgb(181,181,181)"/><stop offset="0.1590" stop-color="rgb(177,177,177)"/><stop offset="0.1759" stop-color="rgb(172,172,172)"/><stop offset="0.1927" stop-color="rgb(166,166,166)"/><stop offset="0.2096" stop-color="rgb(160,160,160)"/><stop offset="0.2265" stop-color="rgb(153,153,153)"/><stop offset="0.2433" stop-color="rgb(145,145,145)"/><stop offset="0.2602" stop-color="rgb(137,137,137)"/><stop offset="0.2771" stop-color="rgb(127,127,127)"/><stop offset="0.2939" stop-color="rgb(117,117,117)"/><stop offset="0.3108" stop-color="rgb(110,110,110)"/><stop offset="0.3277" stop-color="rgb(107,107,107)"/><stop offset="0.3445" stop-color="rgb(109,109,109)"/><stop offset="0.3614" stop-color="rgb(114,114,114)"/><stop offset="0.3783" stop-color="rgb(123,123,123)"/><stop offset="0.3952" stop-color="rgb(132,132,132)"/><stop offset="0.4120" stop-color="rgb(141,141,141)"/><stop offset="0.4289" stop-color="rgb(149,149,149)"/><stop offset="0.4458" stop-color="rgb(156,156,156)"/><stop offset="0.4626" stop-color="rgb(162,162,162)"/><stop offset="0.4795" stop-color="rgb(167,167,167)"/><stop offset="0.4964" stop-color="rgb(173,173,173)"/><stop offset="0.5132" stop-color="rgb(177,177,177)"/><stop offset="0.5301" stop-color="rgb(181,181,181)"/><stop offset="0.5470" stop-color="rgb(185,185,185)"/><stop offset="0.5638" stop-color="rgb(189,189,189)"/><stop offset="0.5807" stop-color="rgb(192,192,192)"/><stop offset="0.5976" stop-color="rgb(195,195,195)"/><stop offset="0.6144" stop-color="rgb(198,198,198)"/><stop offset="0.6313" stop-color="rgb(200,200,200)"/><stop offset="0.6482" stop-color="rgb(202,202,202)"/><stop offset="0.6651" stop-color="rgb(205,205,205)"/><stop offset="0.6819" stop-color="rgb(207,207,207)"/><stop offset="0.6988" stop-color="rgb(209,209,209)"/><stop offset="0.7157" stop-color="rgb(211,211,211)"/><stop offset="0.7325" stop-color="rgb(212,212,212)"/><stop offset="0.7494" stop-color="rgb(214,214,214)"/><stop offset="0.7663" stop-color="rgb(215,215,215)"/><stop offset="0.7831" stop-color="rgb(217,217,217)"/><stop offset="0.8000" stop-color="rgb(218,218,218)"/><stop offset="0.8169" stop-color="rgb(219,219,219)"/><stop offset="0.8337" stop-color="rgb(221,221,221)"/><stop offset="0.8506" stop-color="rgb(222,222,222)"/><stop offset="0.8675" stop-color="rgb(223,223,223)"/><stop offset="0.8843" stop-color="rgb(224,224,224)"/><stop offset="0.9012" stop-color="rgb(225,225,225)"/><stop offset="0.9181" stop-color="rgb(226,226,226)"/><stop offset="0.9349" stop-color="rgb(226,226,226)"/><stop offset="0.9518" stop-color="rgb(227,227,227)"/><stop offset="0.9687" stop-color="rgb(228,228,228)"/><stop offset="0.9856" stop-color="rgb(229,229,229)"/><stop offset="1.0000" stop-color="rgb(230,230,230)"/></linearGradient>
<linearGradient id="g10" x1="0" y1="0" x2="0" y2="1"><stop offset="0.0000" stop-color="rgb(204,204,204)"/><stop offset="0.0072" stop-color="rgb(202,202,202)"/><stop offset="0.0240" stop-color="rgb(199,199,199)"/><stop offset="0.0409" stop-color="rgb(196,196,196)"/><stop offset="0.0578" stop-color="rgb(193,193,193)"/><stop offset="0.0747" stop-color="rgb(190,190,190)"/><stop offset="0.0915" stop-color="rgb(186,186,186)"/><stop offset="0.1084" stop-color="rgb(182,182,182)"/><stop offset="0.1253" stop-color="rgb(178,178,178)"/><stop offset="0.1421" stop-color="rgb(173,173,173)"/><stop offset="0.1590" stop-color="rgb(168,168,168)"/><stop offset="0.1759" stop-color="rgb(162,162,162)"/><stop offset="0.1927" stop-color="rgb(155,155,155)"/><stop offset="0.2096" stop-color="rgb(147,147,147)"/><stop offset="0.2265" stop-color="rgb(139,139,139)"/><stop offset="0.2433" stop-color="rgb(129,129,129)"/><stop offset="0.2602" stop-color="rgb(119,119,119)"/><stop offset="0.2771" stop-color="rgb(109,109,109)"/><stop offset="0.2939" stop-color="rgb(103,103,103)"/><stop offset="0.3108" stop-color="rgb(104,104,104)"/><stop offset="0.3277" stop-color="rgb(111,111,111)"/><stop offset="0.3445" stop-color="rgb(120,120,120)"/><stop offset="0.3614" stop-color="rgb(130,130,130)"/><stop offset="0.3783" stop-color="rgb(139,139,139)"/><stop offset="0.3952" stop-color="rgb(147,147,147)"/><stop offset="0.4120" stop-color="rgb(154,154,154)"/><stop offset="0.4289" stop-color="rgb(161,161,161)"/><stop offset="0.4458" stop-color="rgb(166,166,166)"/><stop offset="0.4626" stop-color="rgb(171,171,171)"/><stop offset="0.4795" stop-color="rgb(176,176,176)"/><stop offset="0.4964" stop-color="rgb(180,180,180)"/><stop offset="0.5132" stop-color="rgb(184,184,184)"/><stop offset="0.5301" stop-color="rgb(188,188,188)"/><stop offset="0.5470" stop-color="rgb(191,191,191)"/><stop offset="0.5638" stop-color="rgb(194,194,194)"/><stop offset="0.5807" stop-color="rgb(197,197,197)"/><stop offset="0.5976" stop-color="rgb(199,199,199)"/><stop offset="0.6144" stop-color="rgb(202,202,202)"/><stop offset="0.6313" stop-color="rgb(204,204,204)"/><stop offset="0.6482" stop-color="rgb(206,206,206)"/><stop offset="0.6651" stop-color="rgb(208,208,208)"/><stop offset="0.6819" stop-color="rgb(210,210,210)"/><stop offset="0.6988" stop-color="rgb(212,212,212)"/><stop offset="0.7157" stop-color="rgb(213,213,213)"/><stop offset="0.7325" stop-color="rgb(215,215,215)"/><stop offset="0.7494" stop-color="rgb(216,216,216)"/><stop offset="0.7663" stop-color="rgb(218,218,218)"/><stop offset="0.7831" stop-color="rgb(219,219,219)"/><stop offset="0.8000" stop-color="rgb(220,220,220)"/><stop offset="0.8169" stop-color="rgb(221,221,221)"/><stop offset="0.8337" stop-color="rgb(222,222,222)"/><stop offset="0.8506" stop-color="rgb(223,223,223)"/><stop offset="0.8675" stop-color="rgb(224,224,224)"/><stop offset="0.8843" stop-color="rgb(225,225,225)"/><stop offset="0.9012" stop-color="rgb(226,226,226)"/><stop offset="0.9181" stop-color="rgb(227,227,227)"/><stop offset="0.9349" stop-color="rgb(228,228,228)"/><stop offset="0.9518" stop-color="rgb(228,228,228)"/><stop offset="0.9687" stop-color="rgb(229,229,229)"/><stop offset="0.9856" stop-color="rgb(230,230,230)"/><stop offset="1.0000" stop-color="rgb(230,230,230)"/></linearGradient>
<linearGradient id="g11" x1="0" y1="0" x2="0" y2="1"><stop offset="0.0000" stop-color="rgb(202,202,202)"/><stop offset="0.0072" stop-color="rgb(199,199,199)"/><stop offset="0.0240" stop-color="rgb(197,197,197)"/><stop offset="0.0409" stop-color="rgb(194,194,194)"/><stop offset="0.0578" stop-color="rgb(190,190,190)"/><stop offset="0.0747" stop-color="rgb(187,187,187)"/><stop offset="0.0915" stop-color="rgb(183,183,183)"/><stop offset="0.1084" stop-color="rgb(179,179,179)"/><stop offset="0.1253" stop-color="rgb(174,174,174)"/><stop offset="0.1421" stop-color="rgb(169,169,169)"/><stop offset="0.1590" stop-color="rgb(163,163,163)"/><stop offset="0.1759" stop-color="rgb(156,156,156)"/><stop offset="0.1927" stop-color="rgb(149,149,149)"/><stop offset="0.2096" stop-color="rgb(140,140,140)"/><stop offset="0.2265" stop-color="rgb(131,131,131)"/><stop offset="0.2433" stop-color="rgb(120,120,120)"/><stop offset="0.2602" stop-color="rgb(110,110,110)"/><stop offset="0.2771" stop-color="rgb(103,103,103)"/><stop offset="0.2939" stop-color="rgb(102,102,102)"/><stop offset="0.3108" stop-color="rgb(109,109,109)"/><stop offset="0.3277" stop-color="rgb(118,118,118)"/><stop offset="0.3445" stop-color="rgb(128,128,128)"/><stop offset="0.3614" stop-color="rgb(137,137,137)"/><stop offset="0.3783" stop-color="rgb(146,146,146)"/><stop offset="0.3952" stop-color="rgb(153,153,153)"/><stop offset="0.4120" stop-color="rgb(159,159,159)"/><stop offset="0.4289" stop-color="rgb(165,165,165)"/><stop offset="0.4458" stop-color="rgb(170,170,170)"/><stop offset="0.4626" stop-color="rgb(175,175,175)"/><stop offset="0.4795" stop-color="rgb(179,179,179)"/><stop offset="0.4964" stop-color="rgb(183,183,183)"/><stop offset="0.5132" stop-color="rgb(187,187,187)"/><stop offset="0.5301" stop-color="rgb(190,190,190)"/><stop offset="0.5470" stop-color="rgb(193,193,193)"/><stop offset="0.5638" stop-color="rgb(196,196,196)"/><stop offset="0.5807" stop-color="rgb(199,199,199)"/><stop offset="0.5976" stop-color="rgb(201,201,201)"/><stop offset="0.6144" stop-color="rgb(203,203,203)"/><stop offset="0.6313" stop-color="rgb(206,206,206)"/><stop offset="0.6482" stop-color="rgb(208,208,208)"/><stop offset="0.6651" stop-color="rgb(209,209,209)"/><stop offset="0.6819" stop-color="rgb(211,211,211)"/><stop offset="0.6988" stop-color="rgb(213,213,213)"/><stop offset="0.7157" stop-color="rgb(214,214,214)"/><stop offset="0.7325" stop-color="rgb(216,216,216)"/><stop offset="0.7494" stop-color="rgb(217,217,217)"/><stop offset="0.7663" stop-color="rgb(219,219,219)"/><stop offset="0.7831" stop-color="rgb(220,220,220)"/><stop offset="0.8000" stop-color="rgb(221,221,221)"/><stop offset="0.8169" stop-color="rgb(222,222,222)"/><stop offset="0.8337" stop-color="rgb(223,223,223)"/><stop offset="0.8506" stop-color="rgb(224,224,224)"/><stop offset="0.8675" stop-color="rgb(225,225,225)"/><stop offset="0.8843" stop-color="rgb(226,226,226)"/><stop offset="0.9012" stop-color="rgb(227,227,227)"/><stop offset="0.9181" stop-color="rgb(227,227,227)"/><stop offset="0.9349" stop-color="rgb(228,228,228)"/><stop offset="0.9518" stop-color="rgb(229,229,229)"/><stop offset="0.9687" stop-color="rgb(230,230,230)"/><stop offset="0.9856" stop-color="rgb(230,230,230)"/><stop offset="1.0000" stop-color="rgb(231,231,231)"/></linearGradient>
<linearGradient id="cb" x1="0" y1="0" x2="0" y2="1"><stop offset="0" stop-color="#000"/><stop offset="1" stop-color="#f4f4f4"/></linearGradient>
</defs>
<rect x="74.00" y="432.4" width="36.50" height="288.9" fill="url(#g0)"/>
<rect x="109.50" y="432.4" width="36.50" height="288.9" fill="url(#g1)"/>
<rect x="145.00" y="432.4" width="36.50" height="288.9" fill="url(#g2)"/>
<rect x="180.50" y="432.4" width="36.50" height="288.9" fill="url(#g3)"/>
<rect x="216.00" y="432.4" width="26.04" height="288.9" fill="url(#g4)"/>
<rect x="241.04" y="432.4" width="26.04" height="288.9" fill="url(#g5)"/>
<rect x="266.07" y="432.4" width="26.04" height="288.9" fill="url(#g6)"/>
<rect x="291.11" y="432.4" width="26.04" height="288.9" fill="url(#g7)"/>
<rect x="316.15" y="432.4" width="26.04" height="288.9" fill="url(#g8)"/>
<rect x="341.19" y="432.4" width="26.04" height="288.9" fill="url(#g9)"/>
<rect x="366.23" y="432.4" width="26.04" height="288.9" fill="url(#g10)"/>
<rect x="391.26" y="432.4" width="25.04" height="288.9" fill="url(#g11)"/>
<g fill="none" stroke="#000">
<path d="M74.0,663.50 H416.3" stroke-width="1.05" stroke-dasharray="4,2"/>
<path d="M74.0,663.50 h5" stroke-width="1.3"/><path d="M416.3,663.50 h-5" stroke-width="1.3"/>
<path d="M74.0,604.50 H416.3" stroke-width="1.05" stroke-dasharray="4,2"/>
<path d="M74.0,604.50 h5" stroke-width="1.3"/><path d="M416.3,604.50 h-5" stroke-width="1.3"/>
<path d="M74.0,546.50 H416.3" stroke-width="1.05" stroke-dasharray="4,2"/>
<path d="M74.0,546.50 h5" stroke-width="1.3"/><path d="M416.3,546.50 h-5" stroke-width="1.3"/>
<path d="M74.0,487.50 H416.3" stroke-width="1.05" stroke-dasharray="4,2"/>
<path d="M74.0,487.50 h5" stroke-width="1.3"/><path d="M416.3,487.50 h-5" stroke-width="1.3"/>
<path d="M216.0,432.4 V721.3" stroke-width="1.05" stroke-dasharray="4,2"/>
<rect x="74.0" y="432.4" width="342.3" height="288.9" stroke-width="1.8"/>
</g>
<rect x="425.0" y="432.7" width="23.5" height="188.09999999999997" fill="url(#cb)" stroke="#000" stroke-width="1.4"/>
<g fill="none" stroke="#000" stroke-width="1.2">
<path d="M425.0,449.80 h5.5 M448.5,449.80 h-5.5"/>
<path d="M425.0,467.03 h5.5 M448.5,467.03 h-5.5"/>
<path d="M425.0,484.26 h5.5 M448.5,484.26 h-5.5"/>
<path d="M425.0,501.49 h5.5 M448.5,501.49 h-5.5"/>
<path d="M425.0,518.72 h5.5 M448.5,518.72 h-5.5"/>
<path d="M425.0,535.95 h5.5 M448.5,535.95 h-5.5"/>
<path d="M425.0,553.18 h5.5 M448.5,553.18 h-5.5"/>
<path d="M425.0,570.41 h5.5 M448.5,570.41 h-5.5"/>
<path d="M425.0,587.64 h5.5 M448.5,587.64 h-5.5"/>
<path d="M425.0,604.87 h5.5 M448.5,604.87 h-5.5"/>
</g>
<g fill="none" stroke-width="1.6">
<circle cx="228.2" cy="698" r="5.6" stroke="#ff0000"/>
<circle cx="241.7" cy="660.2" r="5.6" stroke="#ff0000"/>
<circle cx="270.3" cy="615.8" r="5.6" stroke="#ff0000"/>
<circle cx="295.9" cy="573.2" r="5.6" stroke="#ff0000"/>
<circle cx="333.5" cy="551.3" r="5.6" stroke="#ff0000"/>
<circle cx="361.7" cy="523" r="5.6" stroke="#ff0000"/>
<path d="M82.3,550.3 L87.7,544.9 L93.10000000000001,550.3 L87.7,555.6999999999999 Z" stroke="#ff00ff"/>
<path d="M112.8,567.5 L118.2,562.1 L123.60000000000001,567.5 L118.2,572.9 Z" stroke="#ff00ff"/>
<path d="M146.2,610.2 L151.6,604.8000000000001 L157.0,610.2 L151.6,615.6 Z" stroke="#ff00ff"/>
<path d="M274.3,618.5 L279.7,613.1 L285.09999999999997,618.5 L279.7,623.9 Z" stroke="#ff00ff"/>
<path d="M307.90000000000003,568.7 L313.3,563.3000000000001 L318.7,568.7 L313.3,574.1 Z" stroke="#ff00ff"/>
<path d="M337.1,544.1 L342.5,538.7 L347.9,544.1 L342.5,549.5 Z" stroke="#ff00ff"/>
<path d="M364.40000000000003,527.5 L369.8,522.1 L375.2,527.5 L369.8,532.9 Z" stroke="#ff00ff"/>
<path d="M381.40000000000003,525.3 L386.8,519.9 L392.2,525.3 L386.8,530.6999999999999 Z" stroke="#ff00ff"/>
</g>
<g font-family="Liberation Serif, serif" fill="#000">
<text x="2.6" y="395.4" font-size="25">(b)</text>
<text x="66.4" y="724.0" font-size="18.4" text-anchor="end">0</text>
<text x="66.4" y="669.9" font-size="18.4" text-anchor="end">100</text>
<text x="66.4" y="611.4" font-size="18.4" text-anchor="end">200</text>
<text x="66.4" y="553.0" font-size="18.4" text-anchor="end">300</text>
<text x="66.4" y="494.5" font-size="18.4" text-anchor="end">400</text>
<text x="66.4" y="436.8" font-size="18.4" text-anchor="end">500</text>
<text x="58.9" y="738.6" font-size="18.4" textLength="68.3" lengthAdjust="spacingAndGlyphs">(π/2,π/2)</text>
<text x="199.0" y="738.6" font-size="18.4" textLength="36.4" lengthAdjust="spacingAndGlyphs">(0,0)</text>
<text x="395.6" y="738.6" font-size="18.4" textLength="37.6" lengthAdjust="spacingAndGlyphs">(π,0)</text>
<text x="229.9" y="766" font-size="27.3" font-weight="bold">Q</text>
<text transform="translate(26,586.1) rotate(-90)" font-size="18.4" text-anchor="middle">Energy Loss (meV)</text>
<text x="452.6" y="449.6" font-size="18.4">max.</text>
<text x="452.6" y="616.4" font-size="18.4">min.</text>
</g>
</svg>
</body></html>
